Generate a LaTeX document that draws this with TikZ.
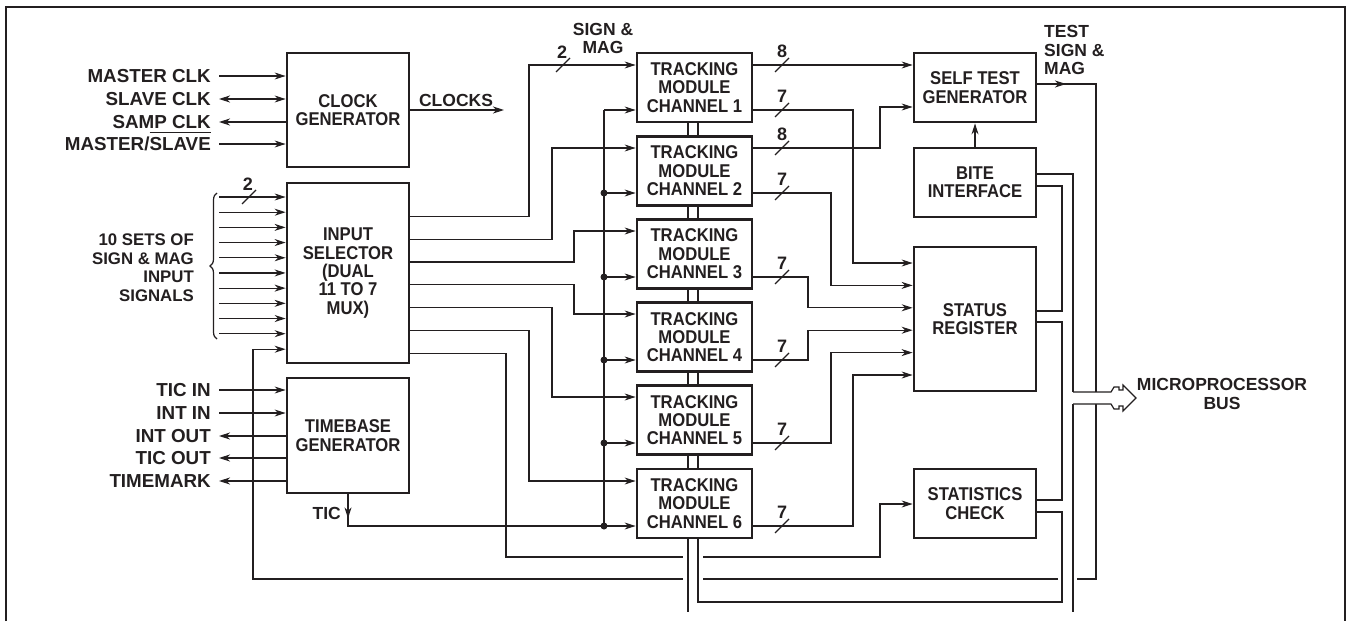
\documentclass[tikz,border=0pt]{standalone}
\usepackage{fontspec}
\setmainfont{Liberation Sans}
\newfontfamily\condfont[FakeStretch=0.9]{Liberation Sans}
\usetikzlibrary{arrows.meta,decorations.pathreplacing}
\definecolor{ink}{HTML}{231F20}
\newcommand\ovlslave{\vbox{\hrule height 1pt\kern 4.5pt\hbox{SLAVE}}}
\begin{document}
\begin{tikzpicture}[x=1pt,y=-1pt,
  font=\fontsize{17.5}{18.5}\selectfont\bfseries, text=ink,
  box/.style={draw=ink, line width=2.8pt, align=center, inner sep=0pt, fill=white,
    font=\condfont\fontsize{18.5}{18.3}\selectfont\bfseries},
  wire/.style={draw=ink, line width=1.2pt},
  arr/.style={wire, -{Stealth[length=11pt,width=7pt,inset=3.5pt]}},
  darr/.style={wire, {Stealth[length=11pt,width=7pt,inset=3.5pt]}-{Stealth[length=11pt,width=7pt,inset=3.5pt]}},
  lbl/.style={inner sep=0pt, text height=13.5pt, text depth=0pt, anchor=east,
    font=\fontsize{18.8}{22}\selectfont\bfseries},
  num/.style={inner sep=0pt, font=\fontsize{18}{18}\selectfont\bfseries},
  dot/.style={circle, fill=ink, inner sep=0pt, minimum size=7pt},
  bitslash/.pic={\draw[ink, line width=1.1pt] (-7,7) -- (7,-7);}
]
\useasboundingbox (0,0) rectangle (1351,621);
\draw[ink, line width=2pt] (6,621) -- (6,6.5) -- (1345,6.5) -- (1345,621);

% ---------- boxes ----------
\node[box, minimum width=122pt, minimum height=114pt] (clk) at (348,110) {CLOCK\\GENERATOR};
\node[box, minimum width=122pt, minimum height=180pt] (insel) at (348,273) {INPUT\\SELECTOR\\(DUAL\\11 TO 7\\MUX)};
\node[box, minimum width=122pt, minimum height=115pt] (tb) at (348,435.5) {TIMEBASE\\GENERATOR};
\foreach \k/\c in {1/87.5,2/170.7,3/253.9,4/337.1,5/420.3,6/503.5}
  \node[box, minimum width=115pt, minimum height=69pt] (ch\k) at (694.5,\c) {TRACKING\\MODULE\\CHANNEL \k};
\node[box, minimum width=122pt, minimum height=69pt] (st) at (975,87.5) {SELF TEST\\GENERATOR};
\node[box, minimum width=122pt, minimum height=69pt] (bite) at (975,182.5) {BITE\\INTERFACE};
\node[box, minimum width=122pt, minimum height=144pt] (sr) at (975,319) {STATUS\\REGISTER};
\node[box, minimum width=122pt, minimum height=69pt] (sc) at (975,503.5) {STATISTICS\\CHECK};

% ---------- clock generator inputs ----------
\node[lbl] (lmc) at (211,76) {MASTER CLK};
\node[lbl] (lsc) at (211,99) {SLAVE CLK};
\node[lbl] (lsp) at (211,122) {SAMP CLK};
\node[lbl] (lms) at (211,144) {MASTER/\ovlslave};
\draw[arr] ([xshift=8pt]lmc.east) -- (clk.west |- lmc.east);
\draw[darr] ([xshift=8pt]lsc.east) -- (clk.west |- lsc.east);
\draw[arr] (clk.west |- lsp.east) -- ([xshift=8pt]lsp.east);
\draw[arr] ([xshift=8pt]lms.east) -- (clk.west |- lms.east);

\coordinate (clkend) at (504,110);
\draw[arr] (clk.east |- clkend) -- (clkend);
\node[inner sep=0pt, anchor=base] at (456,106) {CLOCKS};

% ---------- input selector inputs ----------
\foreach \i in {0,...,9}{
  \pgfmathsetmacro\yy{197+15.19*\i}
  \coordinate (in\i) at (219,\yy);
  \draw[arr] (in\i) -- (insel.west |- in\i);
}
\pic at (249,197) {bitslash};
\node[num] at (248,184) {2};
\draw[wire, decorate, decoration={brace, amplitude=7pt}] (217,339) -- (217,193);
\node[inner sep=0pt, anchor=east, align=right, font=\fontsize{16.8}{18.5}\selectfont\bfseries] at (194,267.5) {10 SETS OF\\SIGN \& MAG\\INPUT\\SIGNALS};

% ---------- timebase ----------
\node[lbl] (ltin) at (211,390) {TIC IN};
\node[lbl] (liin) at (211,413) {INT IN};
\node[lbl] (liout) at (211,436) {INT OUT};
\node[lbl] (ltout) at (211,458) {TIC OUT};
\node[lbl] (ltm) at (211,481) {TIMEMARK};
\draw[arr] ([xshift=8pt]ltin.east) -- (tb.west |- ltin.east);
\draw[arr] ([xshift=8pt]liin.east) -- (tb.west |- liin.east);
\draw[arr] (tb.west |- liout.east) -- ([xshift=8pt]liout.east);
\draw[arr] (tb.west |- ltout.east) -- ([xshift=8pt]ltout.east);
\draw[arr] (tb.west |- ltm.east) -- ([xshift=8pt]ltm.east);

% TIC distribution
\draw[arr] (tb.south) |- (ch6.west |- 0,526);
\draw[arr] (tb.south) -- ++(0,24);
\node[inner sep=0pt, anchor=east, text height=12.5pt, text depth=0pt] at (341,513) {TIC};
\draw[wire] (604,526) -- (604,110);
\draw[arr] (604,110) -- (ch1.west |- 0,110);
\foreach \k/\y in {2/193,3/277,4/360,5/443}{
  \draw[arr] (604,\y) -- (ch\k.west |- 0,\y);
  \node[dot] at (604,\y) {};
}
\node[dot] at (604,526) {};

% ---------- input selector outputs ----------
\foreach \k/\y/\x/\t in {1/216.4/529/65, 2/239.2/552/148, 3/262/574/231, 4/284.8/574/314, 5/307.6/552/397, 6/330.4/529/481}{
  \draw[arr] (insel.east |- 0,\y) -- (\x,\y) |- (ch\k.west |- 0,\t);
}
\pic at (563,65) {bitslash};
\node[num] at (562,52) {2};
\node[inner sep=0pt, align=center] at (603,38.5) {SIGN \&\\MAG};

% statistics check input
\draw[arr] (insel.east |- 0,353.2) -- (506,353.2) -- (506,557) -- (683,557) (703,557) -- (880,557) |- (sc.west |- 0,504);

% ---------- tracking module links ----------
\foreach \k/\n in {1/2,2/3,3/4,4/5,5/6}{
  \draw[wire] ([xshift=-6.5pt]ch\k.south) -- ([xshift=-6.5pt]ch\n.north);
  \draw[wire] ([xshift=3.5pt]ch\k.south) -- ([xshift=3.5pt]ch\n.north);
}
\draw[wire] ([xshift=-6.5pt]ch6.south) -- (688,612);
\draw[wire] ([xshift=3.5pt]ch6.south) |- (1062,602) -- (1062,512) -- (sc.east |- 0,512);

% ---------- tracking outputs ----------
\draw[arr] (ch1.east |- 0,65) -- (st.west |- 0,65);
\pic at (782,65) {bitslash};
\node[num] at (782,51) {8};
\draw[arr] (ch2.east |- 0,148) -- (880,148) |- (st.west |- 0,107);
\pic at (782,148) {bitslash};
\node[num] at (782,134) {8};
\foreach \k/\y/\x/\t in {1/110/853/263, 2/193/831/285.4, 3/277/808/307.8, 4/360/808/330.2, 5/443/831/352.6, 6/526/853/375}{
  \draw[arr] (ch\k.east |- 0,\y) -- (\x,\y) |- (sr.west |- 0,\t);
  \pic at (782,\y) {bitslash};
  \node[num] at (782,\y-14) {7};
}

% ---------- self test / bite ----------
\draw[arr] (bite.north) -- (st.south);
\draw[arr] (st.east |- 0,84) -- (1066,84);
\draw[arr] (st.east |- 0,84) -- (1096,84) -- (1096,579) -- (1077,579) (1058,579) -- (703,579) (683,579) -- (253,579) -- (253,349.2) -- (insel.west |- 0,349.2);
\node[inner sep=0pt, anchor=west, align=left] at (1044,50) {TEST\\SIGN \&\\MAG};

% ---------- microprocessor bus ----------
\draw[wire] (bite.east |- 0,174) -- (1073,174) -- (1073,392);
\draw[wire] (1073,404) -- (1073,612);
\draw[wire] (bite.east |- 0,186) -- (1062,186) -- (1062,311) -- (sr.east |- 0,311);
\draw[wire] (sr.east |- 0,322) -- (1062,322) -- (1062,500) -- (sc.east |- 0,500);
\draw[wire, fill=white] (1073,392) -- (1111,392) -- (1114,387) -- (1119,387) -- (1119,390) -- (1123,390) -- (1123,385) -- (1136,398) -- (1123,411) -- (1123,406) -- (1119,406) -- (1119,409) -- (1114,409) -- (1111,404) -- (1073,404);
\node[inner sep=0pt, align=center] at (1222,394) {MICROPROCESSOR\\BUS};
\end{tikzpicture}
\end{document}
